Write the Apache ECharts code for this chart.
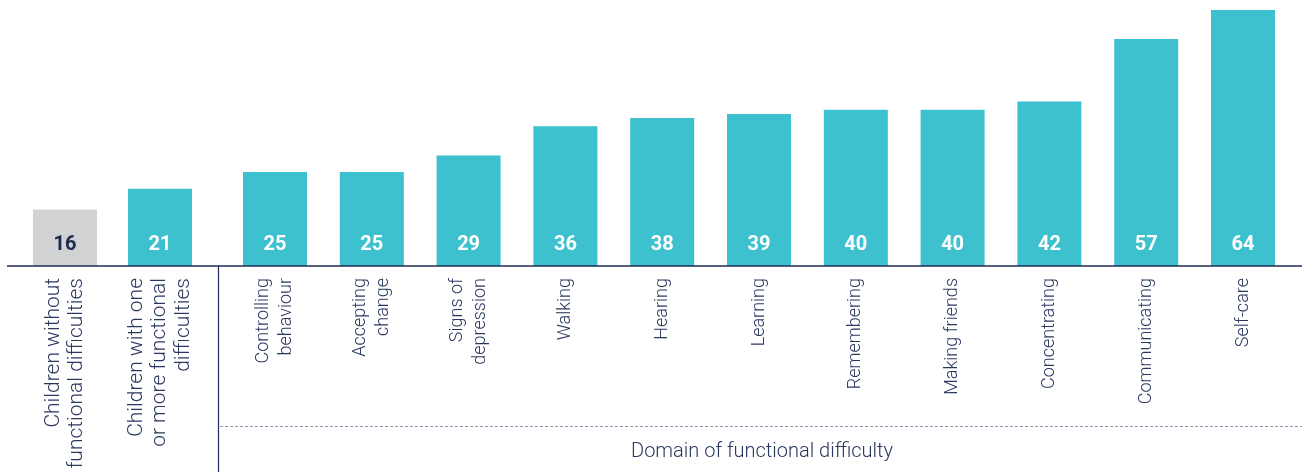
<!DOCTYPE html>
<html>
<head>
<meta charset="utf-8">
<script src="https://cdn.jsdelivr.net/npm/echarts@6/dist/echarts.min.js"></script>
<style>
  html, body { margin: 0; padding: 0; background: #ffffff; }
  #chart { width: 1302px; height: 472px; }
</style>
</head>
<body>
<div id="chart"></div>
<script>
// Reference groups (left block)
const refCategories = [
  'Children without\nfunctional difficulties',
  'Children with one\nor more functional\ndifficulties'
];
const refValues = [16, 21];

// Domains of functional difficulty (right block)
const domainCategories = [
  'Controlling\nbehaviour',
  'Accepting\nchange',
  'Signs of\ndepression',
  'Walking',
  'Hearing',
  'Learning',
  'Remembering',
  'Making friends',
  'Concentrating',
  'Communicating',
  'Self-care'
];
const domainValues = [25, 25, 29, 36, 38, 39, 40, 40, 42, 57, 64];

const domainTitle = 'Domain of functional difficulty';

const TEAL = '#3dc1ce';
const GREY = '#d1d2d4';
const NAVY = '#1c2a50';
const TEXT = '#2a375f';
const FONT = 'Roboto, "Noto Sans", sans-serif';

const Y_MIN = 2.4, Y_MAX = 64;
const AXIS_Y = 266;

const chart = echarts.init(document.getElementById('chart'), null, { renderer: 'canvas' });

function axisLabel(fontSize, lineHeight) {
  return {
    rotate: 90,
    interval: 0,
    margin: 12,
    color: TEXT,
    fontFamily: FONT,
    fontSize,
    fontWeight: 300,
    lineHeight,
    align: 'right'
  };
}

function xAxis(gridIndex, data, label) {
  return {
    type: 'category',
    gridIndex,
    data,
    axisLine: { show: false },
    axisTick: { show: false },
    axisLabel: label
  };
}
function yAxis(gridIndex) {
  return {
    type: 'value',
    gridIndex,
    min: Y_MIN,
    max: Y_MAX,
    show: false,
    splitLine: { show: false }
  };
}
function valueLabel(color) {
  return {
    show: true,
    position: 'insideBottom',
    distance: 11,
    color,
    fontFamily: FONT,
    fontSize: 20,
    fontWeight: 'bold'
  };
}

chart.setOption({
  animation: false,
  backgroundColor: '#ffffff',
  grid: [
    { left: 17.5, width: 190, top: 10, bottom: 472 - AXIS_Y },
    { left: 226.6, width: 1064.8, top: 10, bottom: 472 - AXIS_Y }
  ],
  xAxis: [
    xAxis(0, refCategories, axisLabel(21, 23.5)),
    xAxis(1, domainCategories, axisLabel(18, 23))
  ],
  yAxis: [yAxis(0), yAxis(1)],
  series: [
    {
      type: 'bar',
      xAxisIndex: 0,
      yAxisIndex: 0,
      barWidth: 64,
      data: refValues.map((v, i) => ({
        value: v,
        itemStyle: { color: i === 0 ? GREY : TEAL },
        label: valueLabel(i === 0 ? NAVY : '#ffffff')
      }))
    },
    {
      type: 'bar',
      xAxisIndex: 1,
      yAxisIndex: 1,
      barWidth: 64,
      itemStyle: { color: TEAL },
      label: valueLabel('#ffffff'),
      data: domainValues
    }
  ],
  graphic: [
    {
      type: 'line',
      shape: { x1: 7, y1: AXIS_Y, x2: 1302, y2: AXIS_Y },
      style: { stroke: '#1f2b55', lineWidth: 1.5 },
      z: 10
    },
    {
      type: 'line',
      shape: { x1: 218.5, y1: AXIS_Y, x2: 218.5, y2: 472 },
      style: { stroke: '#1f2b55', lineWidth: 1.2 },
      z: 10
    },
    {
      type: 'line',
      shape: { x1: 220, y1: 426.5, x2: 1302, y2: 426.5 },
      style: { stroke: '#8a94b0', lineWidth: 1, lineDash: [3, 2] },
      z: 10
    },
    {
      type: 'text',
      x: 762,
      y: 452,
      style: {
        text: domainTitle,
        fill: TEXT,
        font: '300 20px ' + FONT,
        align: 'center',
        verticalAlign: 'middle'
      },
      z: 10
    }
  ]
});
</script>
</body>
</html>
